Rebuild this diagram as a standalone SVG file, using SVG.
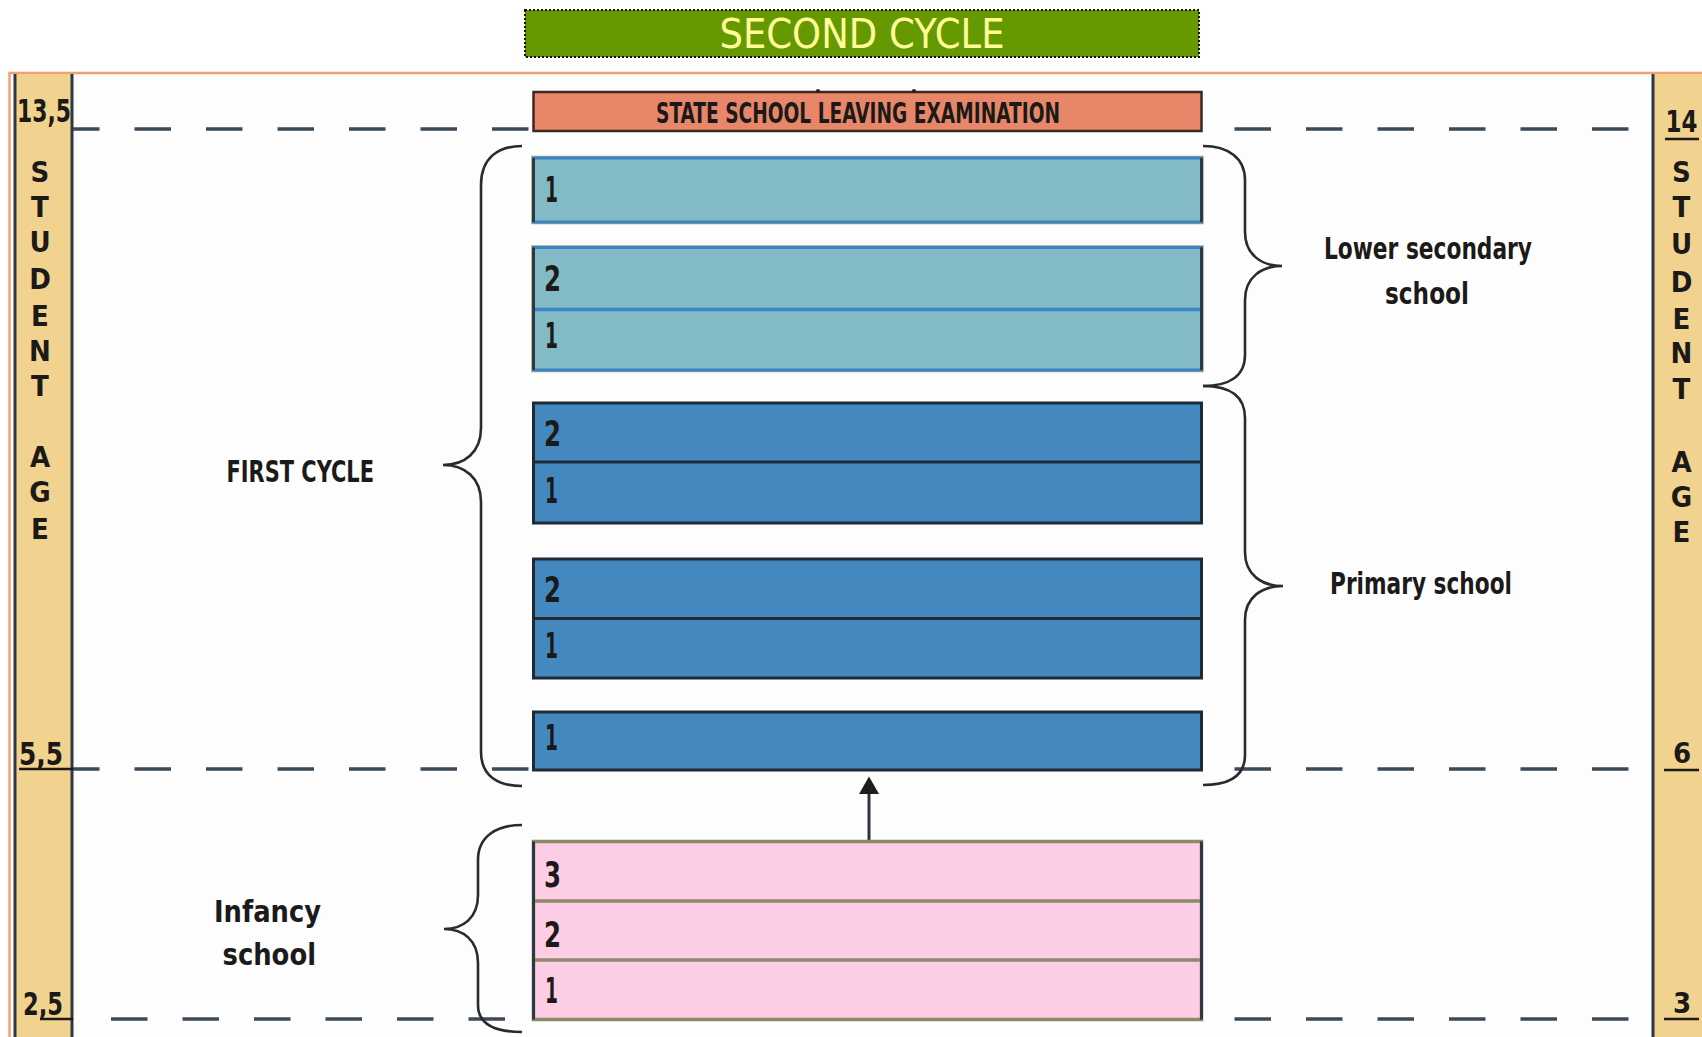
<svg xmlns="http://www.w3.org/2000/svg" width="1702" height="1037" viewBox="0 0 1702 1037">
<style>
.b{font-family:'DejaVu Sans Condensed','DejaVu Sans',sans-serif;font-weight:bold;font-stretch:condensed;fill:#1b1a18}
.num{font-size:35px}
.lab{font-size:30px}
.side{font-size:29px;text-anchor:middle}
.dash{stroke:#3c4a58;stroke-width:3.5;stroke-dasharray:36.5 35;fill:none}
.brace{fill:none;stroke:#2b2b2b;stroke-width:2.6}
.teal{fill:#82bbc6;stroke:#3b83c2;stroke-width:3}
.tealo{fill:none;stroke:#aca689;stroke-width:1.5}
.blue{fill:#4389c0;stroke:#1f2a35;stroke-width:3}
.pink{fill:#fdcde6;stroke:#8c8a68;stroke-width:3.5}
.edge{stroke:#2c3846;stroke-width:3}
.ul{stroke:#1b1a18;stroke-width:2.5}
</style>
<rect width="1702" height="1037" fill="#ffffff"/>
<rect x="9.5" y="73" width="1700" height="970" fill="#fdfdfd" stroke="#f4a070" stroke-width="2.5"/>

<g id="second-cycle">
<rect x="525" y="10" width="674" height="47" fill="#669900" stroke="#111" stroke-width="2" stroke-dasharray="2 2"/>
<text x="862" y="48" font-family="'DejaVu Sans',sans-serif" font-size="40" fill="#ffff99" text-anchor="middle" textLength="285" lengthAdjust="spacingAndGlyphs">SECOND CYCLE</text>
</g>

<g id="connectors">
<line class="dash" x1="63" y1="129" x2="533" y2="129"/>
<line class="dash" x1="1234.5" y1="129" x2="1630" y2="129"/>
<line class="dash" x1="63" y1="769" x2="533" y2="769"/>
<line class="dash" x1="1234.5" y1="769" x2="1630" y2="769"/>
<line class="dash" x1="111" y1="1019" x2="533" y2="1019"/>
<line class="dash" x1="1234.5" y1="1019" x2="1630" y2="1019"/>
<path class="brace" d="M522,146 C498,146 481,158 481,185 L481,428 C481,452 465,465 443,465 C465,465 481,478 481,502 L481,752 C481,776 498,786 522,786"/>
<path class="brace" d="M1203,146 C1228,146 1245,158 1245,180 L1245,232 C1245,255 1262,266 1282,266 C1262,266 1245,277 1245,300 L1245,355 C1245,377 1228,386 1203,386"/>
<path class="brace" d="M1203,386 C1228,386 1245,395 1245,418 L1245,552 C1245,575 1262,586 1283,586 C1262,586 1245,597 1245,620 L1245,755 C1245,777 1228,785 1203,785"/>
<path class="brace" d="M522,825 C497,825 478,836 478,860 L478,895 C478,918 463,929 444,929 C463,929 478,940 478,963 L478,1005 C478,1025 497,1032 522,1032"/>
<line x1="869" y1="840" x2="869" y2="792" stroke="#2a3440" stroke-width="3"/>
<polygon points="869,776.5 859,794 879,794" fill="#1d1d1d"/>
</g>

<g id="left-age-bar">
<rect x="15" y="74" width="57.5" height="965" fill="#f1d28f"/>
<line class="edge" x1="15" y1="74" x2="15" y2="1037" stroke="#3a4a58"/>
<line class="edge" x1="72" y1="74" x2="72" y2="1037" stroke="#332e28"/>
<text class="b" x="17" y="122" font-size="32" textLength="54" lengthAdjust="spacingAndGlyphs">13,5</text>
<text class="b" x="19" y="765" font-size="32" textLength="44" lengthAdjust="spacingAndGlyphs">5,5</text>
<line class="ul" x1="19" y1="769" x2="73" y2="769"/>
<text class="b" x="23" y="1015" font-size="32" textLength="40" lengthAdjust="spacingAndGlyphs">2,5</text>
<line class="ul" x1="40" y1="1019" x2="73" y2="1019"/>
<text class="b side" x="40" y="182">S</text>
<text class="b side" x="40" y="217">T</text>
<text class="b side" x="40" y="252">U</text>
<text class="b side" x="40" y="289">D</text>
<text class="b side" x="40" y="326">E</text>
<text class="b side" x="40" y="361">N</text>
<text class="b side" x="40" y="396">T</text>
<text class="b side" x="40" y="467">A</text>
<text class="b side" x="40" y="502">G</text>
<text class="b side" x="40" y="539">E</text>
</g>

<g id="right-age-bar">
<rect x="1653" y="74" width="50" height="965" fill="#f1d28f"/>
<line class="edge" x1="1653" y1="74" x2="1653" y2="1037" stroke="#332e28"/>
<text class="b" x="1697.5" y="131.5" font-size="30" text-anchor="end" textLength="32" lengthAdjust="spacingAndGlyphs">14</text>
<line class="ul" x1="1665" y1="139" x2="1699" y2="139"/>
<text class="b side" x="1682" y="763">6</text>
<line class="ul" x1="1664" y1="770" x2="1699" y2="770"/>
<text class="b side" x="1682" y="1013">3</text>
<line class="ul" x1="1664" y1="1019" x2="1699" y2="1019"/>
<text class="b side" x="1681.5" y="182">S</text>
<text class="b side" x="1681.5" y="217">T</text>
<text class="b side" x="1681.5" y="254">U</text>
<text class="b side" x="1681.5" y="292">D</text>
<text class="b side" x="1681.5" y="329">E</text>
<text class="b side" x="1681.5" y="363">N</text>
<text class="b side" x="1681.5" y="399">T</text>
<text class="b side" x="1681.5" y="472">A</text>
<text class="b side" x="1681.5" y="507">G</text>
<text class="b side" x="1681.5" y="542">E</text>
</g>

<g id="exam">
<rect x="533.5" y="92" width="668" height="39" fill="#e8866a" stroke="#3a2a20" stroke-width="2.5"/>
<circle cx="818" cy="91" r="2" fill="#222"/>
<circle cx="914" cy="91" r="2" fill="#222"/>
<text class="b" x="858" y="123" font-size="28" text-anchor="middle" textLength="404" lengthAdjust="spacingAndGlyphs">STATE SCHOOL LEAVING EXAMINATION</text>
</g>

<g id="lower-secondary-1">
<rect class="tealo" x="532" y="156.5" width="671" height="67"/>
<rect class="teal" x="533.5" y="158" width="668" height="64"/>
<line class="edge" x1="533.5" y1="158" x2="533.5" y2="222"/>
<line class="edge" x1="1201.5" y1="158" x2="1201.5" y2="222"/>
<text class="b num" x="545" y="202" textLength="13" lengthAdjust="spacingAndGlyphs">1</text>
</g>

<g id="lower-secondary-2">
<rect class="tealo" x="532" y="246" width="671" height="125.5"/>
<rect class="teal" x="533.5" y="247.5" width="668" height="122.5"/>
<line x1="533.5" y1="309.5" x2="1201.5" y2="309.5" stroke="#3b83c2" stroke-width="3.5"/>
<line class="edge" x1="533.5" y1="247.5" x2="533.5" y2="370"/>
<line class="edge" x1="1201.5" y1="247.5" x2="1201.5" y2="370"/>
<text class="b num" x="544" y="291" textLength="17" lengthAdjust="spacingAndGlyphs">2</text>
<text class="b num" x="545" y="348" textLength="13" lengthAdjust="spacingAndGlyphs">1</text>
</g>

<g id="primary-1">
<rect class="blue" x="533.5" y="403" width="668" height="120"/>
<line x1="533.5" y1="462" x2="1201.5" y2="462" stroke="#1f2a35" stroke-width="3"/>
<text class="b num" x="544" y="446" textLength="17" lengthAdjust="spacingAndGlyphs">2</text>
<text class="b num" x="545" y="503" textLength="13" lengthAdjust="spacingAndGlyphs">1</text>
</g>

<g id="primary-2">
<rect class="blue" x="533.5" y="559" width="668" height="119"/>
<line x1="533.5" y1="618.5" x2="1201.5" y2="618.5" stroke="#1f2a35" stroke-width="3"/>
<text class="b num" x="544" y="602" textLength="17" lengthAdjust="spacingAndGlyphs">2</text>
<text class="b num" x="545" y="658" textLength="13" lengthAdjust="spacingAndGlyphs">1</text>
</g>

<g id="primary-3">
<rect class="blue" x="533.5" y="712" width="668" height="58"/>
<text class="b num" x="545" y="750" textLength="13" lengthAdjust="spacingAndGlyphs">1</text>
</g>

<g id="infancy">
<rect class="pink" x="533.5" y="841.5" width="668" height="178"/>
<line x1="533.5" y1="901" x2="1201.5" y2="901" stroke="#8c8a68" stroke-width="3.5"/>
<line x1="533.5" y1="960" x2="1201.5" y2="960" stroke="#8c8a68" stroke-width="3.5"/>
<line class="edge" x1="533.5" y1="841.5" x2="533.5" y2="1019.5"/>
<line class="edge" x1="1201.5" y1="841.5" x2="1201.5" y2="1019.5"/>
<text class="b num" x="544" y="887" textLength="17" lengthAdjust="spacingAndGlyphs">3</text>
<text class="b num" x="544" y="947" textLength="17" lengthAdjust="spacingAndGlyphs">2</text>
<text class="b num" x="545" y="1003" textLength="13" lengthAdjust="spacingAndGlyphs">1</text>
</g>

<g id="labels">
<text class="b lab" x="226.5" y="482" textLength="147.5" lengthAdjust="spacingAndGlyphs">FIRST CYCLE</text>
<text class="b lab" x="214" y="922" textLength="107" lengthAdjust="spacingAndGlyphs">Infancy</text>
<text class="b lab" x="222.5" y="965" textLength="93.5" lengthAdjust="spacingAndGlyphs">school</text>
<text class="b lab" x="1324" y="259" textLength="208" lengthAdjust="spacingAndGlyphs">Lower secondary</text>
<text class="b lab" x="1385" y="304" textLength="84" lengthAdjust="spacingAndGlyphs">school</text>
<text class="b lab" x="1330" y="594" textLength="182" lengthAdjust="spacingAndGlyphs">Primary school</text>
</g>
</svg>
